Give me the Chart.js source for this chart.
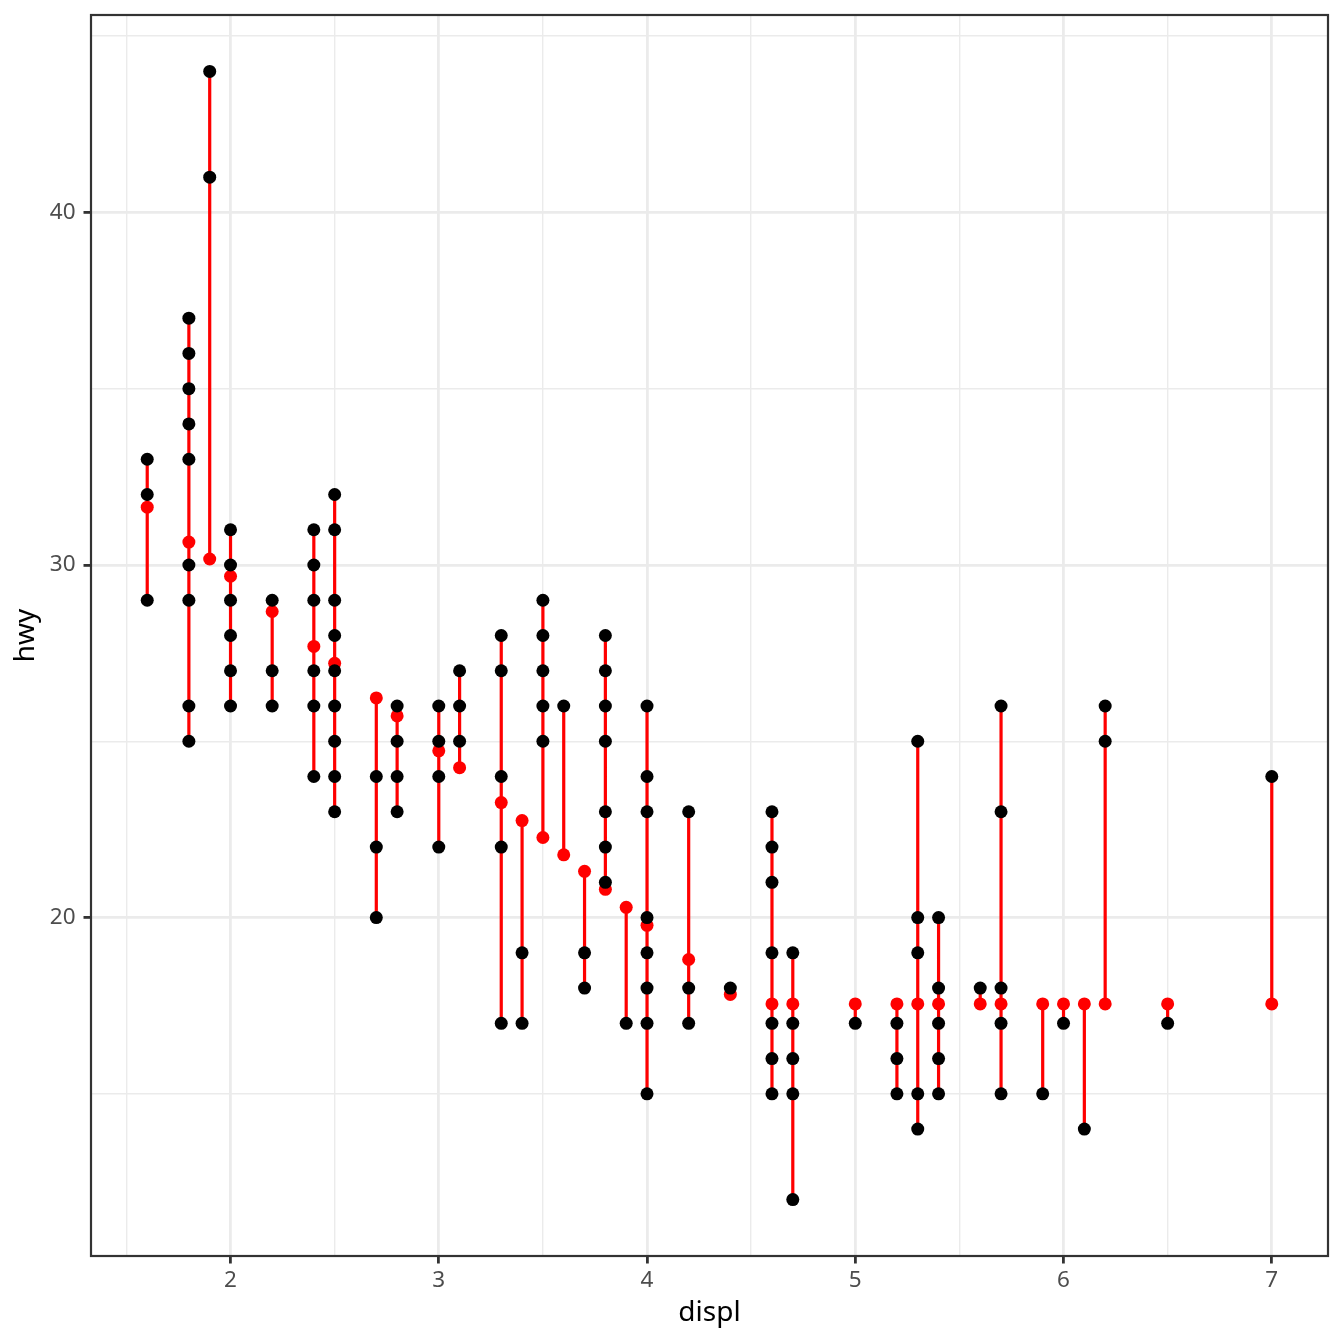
<!DOCTYPE html>
<html>
<head>
<meta charset="utf-8">
<script src="https://cdn.jsdelivr.net/npm/chart.js@4"></script>
<style>
  html, body { margin: 0; padding: 0; background: #ffffff; }
  #wrap { width: 1344px; height: 1344px; }
</style>
</head>
<body>
<div id="wrap"><canvas id="c" width="1344" height="1344"></canvas></div>
<script>
// ---- data ----
const displ = [1.6, 1.8, 1.9, 2.0, 2.2, 2.4, 2.5, 2.7, 2.8, 3.0, 3.1, 3.3, 3.4, 3.5, 3.6, 3.7, 3.8, 3.9, 4.0, 4.2, 4.4,
               4.6, 4.7, 5.0, 5.2, 5.3, 5.4, 5.6, 5.7, 5.9, 6.0, 6.1, 6.2, 6.5, 7.0];
const hwyFitted = [31.64, 30.65, 30.17, 29.68, 28.68, 27.69, 27.21, 26.23, 25.72, 24.73, 24.25, 23.26, 22.75, 22.27, 21.78, 21.31, 20.80, 20.29, 19.78, 18.81, 17.82,
                   17.55, 17.55, 17.55, 17.55, 17.55, 17.55, 17.55, 17.55, 17.55, 17.55, 17.55, 17.55, 17.55, 17.55];
const hwyObserved = [
  [33, 32, 29],
  [37, 36, 35, 34, 33, 30, 29, 26, 25],
  [44, 41],
  [31, 30, 29, 28, 27, 26],
  [29, 27, 26],
  [31, 30, 29, 27, 26, 24],
  [32, 31, 29, 28, 27, 26, 25, 24, 23],
  [24, 22, 20],
  [26, 25, 24, 23],
  [26, 25, 24, 22],
  [27, 26, 25],
  [28, 27, 24, 22, 17],
  [19, 17],
  [29, 28, 27, 26, 25],
  [26],
  [19, 18],
  [28, 27, 26, 25, 23, 22, 21],
  [17],
  [26, 24, 23, 20, 19, 18, 17, 15],
  [23, 18, 17],
  [18],
  [23, 22, 21, 19, 17, 16, 15],
  [19, 17, 16, 15, 12],
  [17],
  [17, 16, 15],
  [25, 20, 19, 15, 14],
  [20, 18, 17, 16, 15],
  [18],
  [26, 23, 18, 17, 15],
  [15],
  [17],
  [14],
  [26, 25],
  [17],
  [24]
];
const xTickValues = [1.5, 2, 2.5, 3, 3.5, 4, 4.5, 5, 5.5, 6, 6.5, 7];
const yTickValues = [15, 20, 25, 30, 35, 40, 45];
const xMajor = [2, 3, 4, 5, 6, 7];
const yMajor = [20, 30, 40];

// ---- build library data ----
const obsPoints = [];
const fitPoints = [];
const segPoints = [];
displ.forEach((d, i) => {
  fitPoints.push({ x: d, y: hwyFitted[i] });
  hwyObserved[i].forEach(h => {
    obsPoints.push({ x: d, y: h });
    segPoints.push({ x: d, y: hwyFitted[i] });
    segPoints.push({ x: d, y: h });
    segPoints.push({ x: d, y: null });
  });
});

const FONT = '"Noto Sans", "Open Sans", "DejaVu Sans", sans-serif';
const isMajorX = v => xMajor.includes(v);
const isMajorY = v => yMajor.includes(v);

const borderPlugin = {
  id: 'panelBorder',
  afterDraw(chart) {
    const a = chart.chartArea, ctx = chart.ctx;
    ctx.save();
    ctx.strokeStyle = '#333333';
    ctx.lineWidth = 2.2;
    ctx.strokeRect(a.left, a.top, a.right - a.left, a.bottom - a.top);
    ctx.restore();
  }
};

new Chart(document.getElementById('c'), {
  type: 'scatter',
  data: {
    datasets: [
      { label: 'observed', data: obsPoints, order: 1, pointRadius: 6.5, pointHoverRadius: 6.5,
        backgroundColor: '#000000', borderWidth: 0 },
      { label: 'fitted', data: fitPoints, order: 2, pointRadius: 6.5, pointHoverRadius: 6.5,
        backgroundColor: '#ff0000', borderWidth: 0 },
      { label: 'residual', type: 'line', data: segPoints, order: 3, borderColor: '#ff0000',
        borderWidth: 3.2, pointRadius: 0, spanGaps: false, fill: false, tension: 0 }
    ]
  },
  options: {
    responsive: false,
    devicePixelRatio: 1,
    animation: false,
    layout: { padding: { top: 15, right: 16, left: 0, bottom: 0 } },
    plugins: { legend: { display: false }, tooltip: { enabled: false } },
    scales: {
      x: {
        type: 'linear', min: 1.33, max: 7.27,
        afterBuildTicks: s => { s.ticks = xTickValues.map(v => ({ value: v })); },
        afterFit: s => { s.height = 88; s.paddingLeft = 0; s.paddingRight = 0; },
        border: { display: false },
        grid: {
          color: c => '#ebebeb',
          lineWidth: c => (c.tick && isMajorX(c.tick.value)) ? 2.8 : 1.4,
          tickColor: c => (c.tick && isMajorX(c.tick.value)) ? '#333333' : 'rgba(0,0,0,0)',
          tickWidth: 2.8,
          tickLength: 7.5
        },
        ticks: {
          autoSkip: false, maxRotation: 0, padding: 4,
          color: '#4d4d4d', font: { family: FONT, size: 22.5 },
          callback: v => isMajorX(v) ? String(v) : ''
        },
        title: { display: true, text: 'displ', color: '#000000',
                 font: { family: FONT, size: 28 }, padding: { top: 0, bottom: 14 } }
      },
      y: {
        type: 'linear', min: 10.4, max: 45.6,
        afterBuildTicks: s => { s.ticks = yTickValues.map(v => ({ value: v })); },
        afterFit: s => { s.width = 91; s.paddingTop = 0; s.paddingBottom = 0; },
        border: { display: false },
        grid: {
          color: c => '#ebebeb',
          lineWidth: c => (c.tick && isMajorY(c.tick.value)) ? 2.8 : 1.4,
          tickColor: c => (c.tick && isMajorY(c.tick.value)) ? '#333333' : 'rgba(0,0,0,0)',
          tickWidth: 2.8,
          tickLength: 7.5
        },
        ticks: {
          autoSkip: false, padding: 8,
          color: '#4d4d4d', font: { family: FONT, size: 22.5 },
          callback: v => isMajorY(v) ? String(v) : ''
        },
        title: { display: true, text: 'hwy', color: '#000000',
                 font: { family: FONT, size: 28 }, padding: { top: 9, bottom: 0 } }
      }
    }
  },
  plugins: [borderPlugin]
});
</script>
</body>
</html>
